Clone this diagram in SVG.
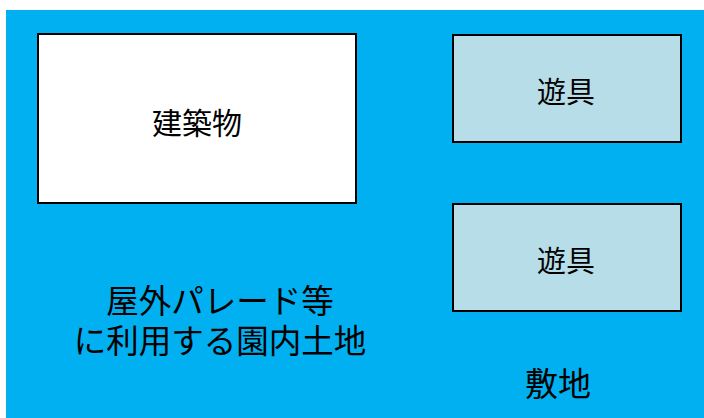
<svg xmlns="http://www.w3.org/2000/svg" width="704" height="418" viewBox="0 0 704 418">
<style>
.t{font-family:"Noto Sans CJK JP","Noto Sans",sans-serif;fill:#000;text-anchor:middle;dominant-baseline:central}
.box{stroke:#000;stroke-width:2}
</style>
<g id="site">
<rect x="6" y="10" width="698" height="408" fill="#00B0F0"/>
<text class="t" x="220" y="298" font-size="32.5">屋外パレード等</text>
<text class="t" x="220" y="338" font-size="32.5">に利用する園内土地</text>
<text class="t" x="558" y="382" font-size="33">敷地</text>
</g>
<g id="building">
<rect class="box" x="38" y="34" width="318" height="169" fill="#FFFFFF"/>
<text class="t" x="197" y="121" font-size="30">建築物</text>
</g>
<g id="play1">
<rect class="box" x="453" y="35" width="228" height="107" fill="#B7DDE8"/>
<text class="t" x="566" y="90" font-size="29">遊具</text>
</g>
<g id="play2">
<rect class="box" x="453" y="204" width="228" height="107" fill="#B7DDE8"/>
<text class="t" x="566" y="259" font-size="29">遊具</text>
</g>
<g id="connectors"></g>
</svg>
